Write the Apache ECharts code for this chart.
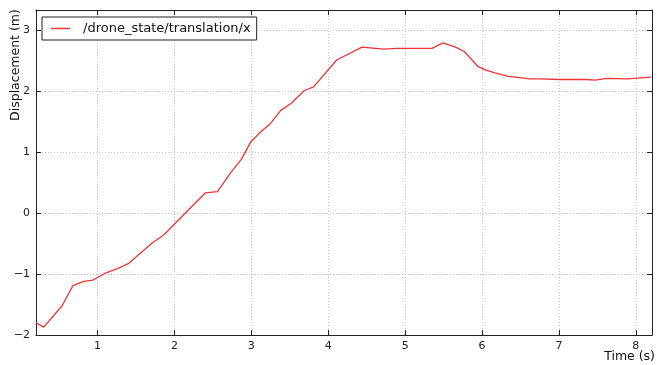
<!DOCTYPE html>
<html>
<head>
<meta charset="utf-8">
<script src="https://cdn.jsdelivr.net/npm/echarts@6/dist/echarts.min.js"></script>
<style>
  html, body { margin: 0; padding: 0; background: #fff; }
  #chart { width: 657px; height: 365px; }
</style>
</head>
<body>
<div id="chart"></div>
<script>
// Time samples (s) and x displacement (m)
const timeS = [0.20, 0.30, 0.54, 0.68, 0.82, 0.94, 1.11, 1.26, 1.40, 1.71, 1.86, 2.40, 2.56, 2.73, 2.87, 2.99, 3.12, 3.25, 3.38, 3.52, 3.69, 3.81, 4.11, 4.44, 4.72, 4.89, 5.35, 5.49, 5.64, 5.77, 5.95, 6.06, 6.17, 6.34, 6.49, 6.62, 6.75, 7.01, 7.36, 7.47, 7.62, 7.88, 8.20];
const dispX = [-1.80, -1.87, -1.52, -1.19, -1.12, -1.10, -0.98, -0.91, -0.83, -0.49, -0.36, 0.33, 0.35, 0.66, 0.88, 1.16, 1.33, 1.47, 1.68, 1.80, 2.01, 2.07, 2.51, 2.72, 2.69, 2.70, 2.70, 2.79, 2.73, 2.65, 2.40, 2.34, 2.30, 2.24, 2.22, 2.20, 2.20, 2.19, 2.19, 2.18, 2.21, 2.20, 2.23];
const seriesName = '/drone_state/translation/x';

const xRange = [0.2, 8.21];
const yRange = [-2, 3.33];

const FONT = 'DejaVu Sans';
const minus = v => String(v).replace('-', '\u2212');

const frame = { show: true, onZero: false, lineStyle: { color: '#222', width: 1 } };
const tickIn = { show: true, inside: true, length: 5, lineStyle: { color: '#222', width: 1 } };
const grid = { show: true, lineStyle: { color: '#c4c4c4', width: 1, type: [1, 2] } };
const labelFont = { color: '#222', fontFamily: FONT, fontSize: 11, formatter: minus, margin: 6 };

const chart = echarts.init(document.getElementById('chart'), null, { renderer: 'canvas' });
chart.setOption({
  animation: false,
  backgroundColor: '#fff',
  grid: { left: 36, right: 5, top: 10, bottom: 30, containLabel: false },
  xAxis: [
    { type: 'value', min: xRange[0], max: xRange[1], splitNumber: 8,
      axisLine: frame, axisTick: tickIn, splitLine: grid,
      axisLabel: Object.assign({ showMinLabel: false, showMaxLabel: false }, labelFont) },
    { type: 'value', position: 'top', min: xRange[0], max: xRange[1], splitNumber: 8,
      axisLine: frame, axisTick: tickIn, splitLine: { show: false }, axisLabel: { show: false } }
  ],
  yAxis: [
    { type: 'value', min: yRange[0], max: yRange[1], interval: 1,
      axisLine: frame, axisTick: tickIn, splitLine: grid,
      axisLabel: Object.assign({ showMinLabel: true, showMaxLabel: false }, labelFont) },
    { type: 'value', position: 'right', min: yRange[0], max: yRange[1], interval: 1,
      axisLine: frame, axisTick: tickIn, splitLine: { show: false }, axisLabel: { show: false } }
  ],
  legend: {
    left: 42, top: 17,
    padding: [3, 6, 3, 9],
    borderColor: '#222', borderWidth: 1, borderRadius: 0,
    backgroundColor: '#fff',
    icon: 'rect', itemWidth: 19, itemHeight: 1.5,
    textStyle: { fontFamily: FONT, fontSize: 13, color: '#111', padding: [0, 0, 0, 8], lineHeight: 17 },
    data: [seriesName]
  },
  series: [{
    name: seriesName,
    type: 'line',
    symbol: 'none',
    color: '#ee3535',
    lineStyle: { color: '#ee3535', width: 1.3 },
    data: timeS.map((t, i) => [t, dispX[i]])
  }],
  graphic: [
    { type: 'text', x: 16, y: 65, rotation: Math.PI / 2,
      style: { text: 'Displacement (m)', fontFamily: FONT, fontSize: 12.5, fill: '#111', align: 'center', verticalAlign: 'middle' } },
    { type: 'text', right: 2, top: 350,
      style: { text: 'Time (s)', fontFamily: FONT, fontSize: 12.5, fill: '#111' } }
  ]
});
</script>
</body>
</html>
